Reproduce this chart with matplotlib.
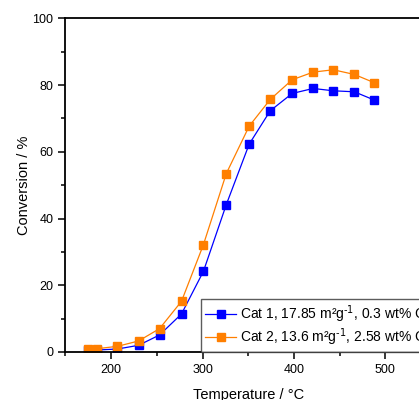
import matplotlib.pyplot as plt
from matplotlib.ticker import MultipleLocator

plt.rcParams['font.family'] = ['Liberation Sans', 'DejaVu Sans']

# Reaction temperatures (deg C)
temperature = [175, 185, 207, 230, 253, 277, 301, 326, 351, 374, 398, 421, 443, 466, 488]

# Conversion (%) for both catalysts
conv_cat1 = [0.5, 0.6, 0.9, 2.0, 5.1, 11.4, 24.2, 44.2, 62.3, 72.3, 77.5, 79.0, 78.3, 78.0, 75.5]
conv_cat2 = [0.8, 1.0, 1.7, 3.3, 7.0, 15.2, 32.2, 53.5, 67.7, 75.7, 81.6, 83.9, 84.6, 83.2, 80.7]

label_cat1 = 'Cat 1, 17.85 m²g$^{\\text{-}1}$, 0.3 wt% Cu'
label_cat2 = 'Cat 2, 13.6 m²g$^{\\text{-}1}$, 2.58 wt% Cu'

fig = plt.figure(figsize=(4.19, 4.0), dpi=100)
# axes run past the right edge, as in the cropped original
ax = fig.add_axes([0.156, 0.12, 0.873, 0.834])

ax.plot(temperature, conv_cat1, color='#0000ff', marker='s', markersize=6,
        linewidth=0.9, label=label_cat1)
ax.plot(temperature, conv_cat2, color='#ff7f00', marker='s', markersize=6,
        linewidth=0.9, label=label_cat2)

ax.set_xlim(150, 550)
ax.set_ylim(0, 100)
ax.xaxis.set_major_locator(MultipleLocator(100))
ax.xaxis.set_minor_locator(MultipleLocator(50))
ax.yaxis.set_major_locator(MultipleLocator(20))
ax.yaxis.set_minor_locator(MultipleLocator(10))
ax.tick_params(which='major', direction='out', length=5, width=1.1, labelsize=9)
ax.tick_params(which='minor', direction='out', length=3, width=1.1)

for s in ax.spines.values():
    s.set_linewidth(1.3)

ax.set_xlabel('Temperature / °C', fontsize=10.5, labelpad=9)
ax.set_ylabel('Conversion / %', fontsize=10.5, labelpad=1)

leg = ax.legend(loc='upper left', bbox_to_anchor=(0.371, 0.158), borderaxespad=0,
                fontsize=10, fancybox=False, handlelength=2.2, handletextpad=0.3,
                borderpad=0.3, labelspacing=0.12, frameon=True)
leg.get_frame().set_edgecolor('#333333')
leg.get_frame().set_linewidth(1.0)

fig.savefig('out.png', dpi=100)
